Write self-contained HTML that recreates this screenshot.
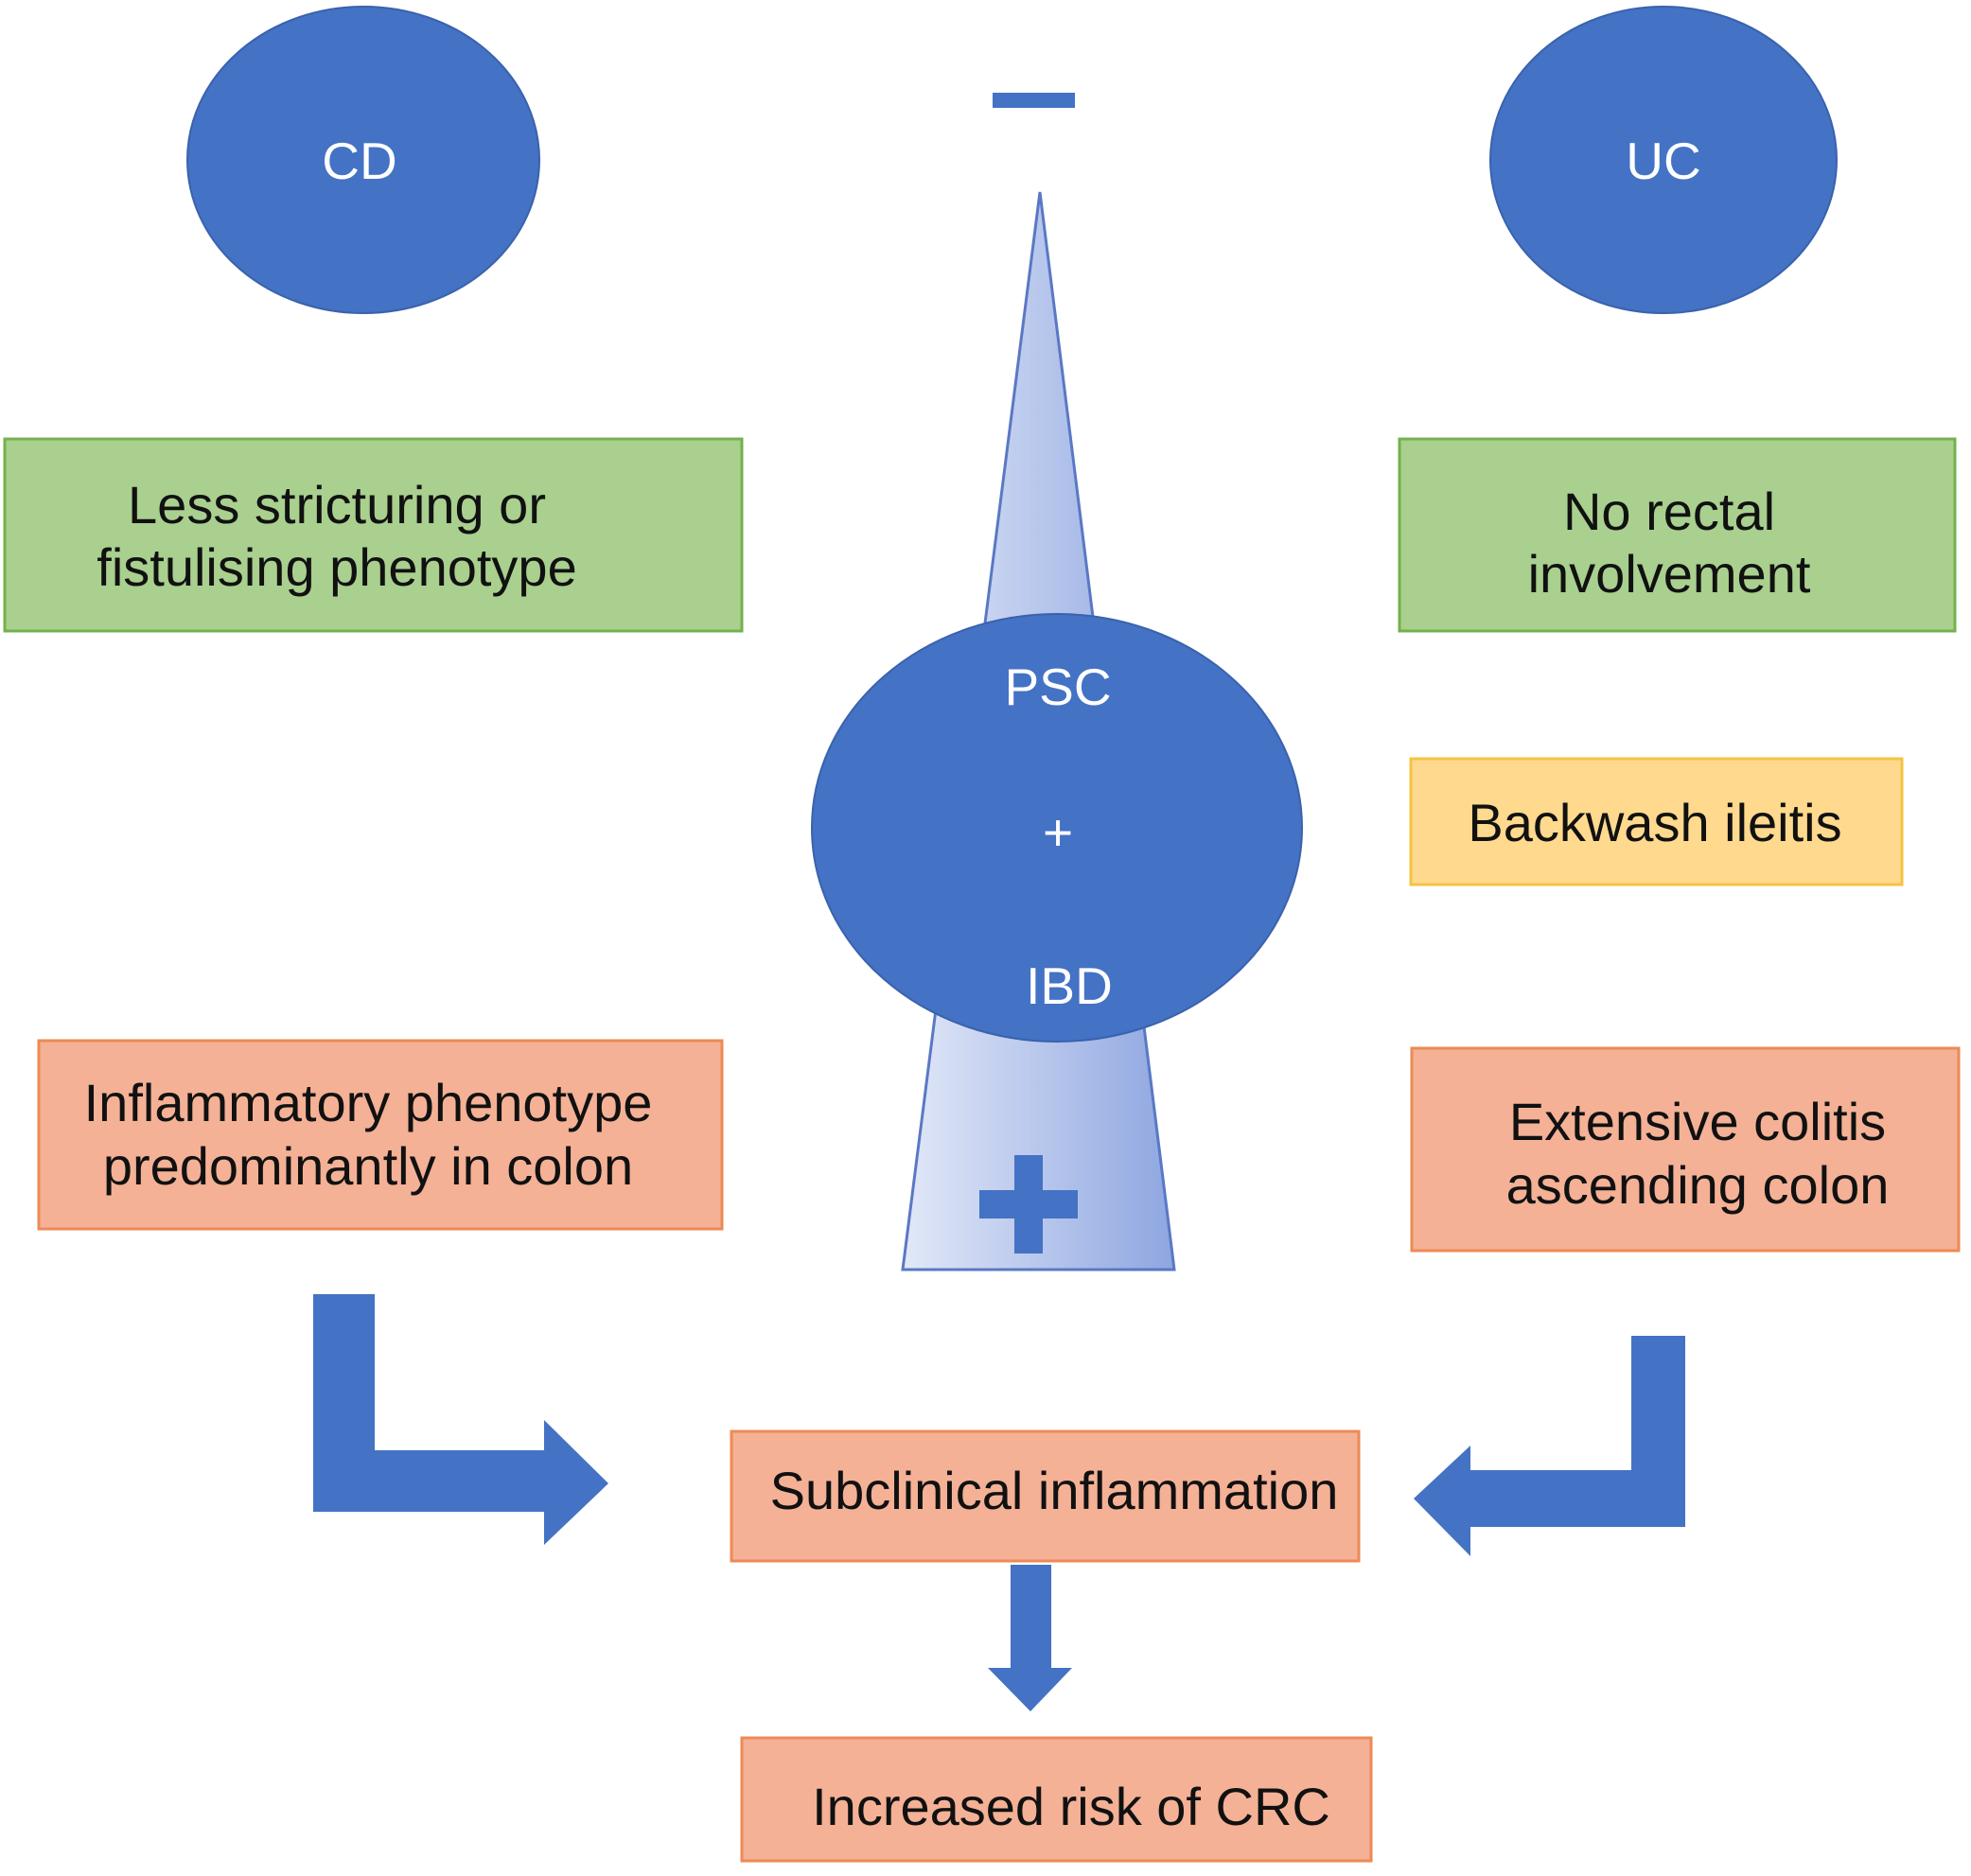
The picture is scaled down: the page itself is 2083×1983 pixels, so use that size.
<!DOCTYPE html>
<html><head><style>body{margin:0;background:#fff}svg{display:block}text{font-family:"Liberation Sans",Arial,sans-serif;}</style></head>
<body>
<svg width="2083" height="1983" viewBox="0 0 2083 1983" xmlns="http://www.w3.org/2000/svg">
<defs>
<linearGradient id="g" x1="0" y1="0" x2="1" y2="0">
<stop offset="0" stop-color="#e2e8f8"/><stop offset="1" stop-color="#8ea6e0"/>
</linearGradient>
</defs>
<rect width="2083" height="1983" fill="#fff"/>
<polygon points="1099,203 1241,1342 954,1342" fill="url(#g)" stroke="#5a78c4" stroke-width="3"/>
<path d="M1072,1221h30v37h37v30h-37v37h-30v-37h-37v-30h37z" fill="#4472c4"/>
<rect x="1049" y="98" width="87" height="16" fill="#4472c4"/>
<ellipse cx="384" cy="169" rx="186" ry="162" fill="#4472c4" stroke="#3a62ad" stroke-width="2"/>
<ellipse cx="1758" cy="169" rx="183" ry="162" fill="#4472c4" stroke="#3a62ad" stroke-width="2"/>
<ellipse cx="1117" cy="875" rx="259" ry="226" fill="#4472c4" stroke="#3a62ad" stroke-width="2"/>
<g fill="#fff" font-size="55" text-anchor="middle">
<text x="380" y="189">CD</text>
<text x="1758" y="189">UC</text>
<text x="1118" y="745">PSC</text>
<text x="1118" y="899">+</text>
<text x="1130" y="1061">IBD</text>
</g>
<rect x="5" y="464" width="779" height="203" fill="#a9d08e" stroke="#74b04c" stroke-width="3"/>
<rect x="1479" y="464" width="587" height="203" fill="#a9d08e" stroke="#74b04c" stroke-width="3"/>
<rect x="1491" y="802" width="519" height="133" fill="#ffd98e" stroke="#f5c342" stroke-width="3"/>
<rect x="41" y="1100" width="722" height="199" fill="#f4b196" stroke="#ed8a55" stroke-width="3"/>
<rect x="1492" y="1108" width="578" height="214" fill="#f4b196" stroke="#ed8a55" stroke-width="3"/>
<rect x="773" y="1513" width="663" height="137" fill="#f4b196" stroke="#ed8a55" stroke-width="3"/>
<rect x="784" y="1837" width="665" height="130" fill="#f4b196" stroke="#ed8a55" stroke-width="3"/>
<g fill="#111" font-size="56" text-anchor="middle">
<text x="356" y="553">Less stricturing or</text>
<text x="356" y="619">fistulising phenotype</text>
<text x="1764" y="560">No rectal</text>
<text x="1764" y="626">involvement</text>
<text x="1749" y="889">Backwash ileitis</text>
<text x="389" y="1185">Inflammatory phenotype</text>
<text x="389" y="1252">predominantly in colon</text>
<text x="1794" y="1205">Extensive colitis</text>
<text x="1794" y="1272">ascending colon</text>
<text x="1114" y="1595">Subclinical inflammation</text>
<text x="1132" y="1929">Increased risk of CRC</text>
</g>
<polygon points="331,1368 396,1368 396,1533 575,1533 575,1501 643,1568 575,1633 575,1598 331,1598" fill="#4472c4"/>
<polygon points="1724,1412 1781,1412 1781,1614 1554,1614 1554,1645 1494,1584 1554,1528 1554,1554 1724,1554" fill="#4472c4"/>
<polygon points="1068,1654 1111,1654 1111,1763 1133,1763 1089,1809 1044,1763 1068,1763" fill="#4472c4"/>
</svg>
</body></html>
